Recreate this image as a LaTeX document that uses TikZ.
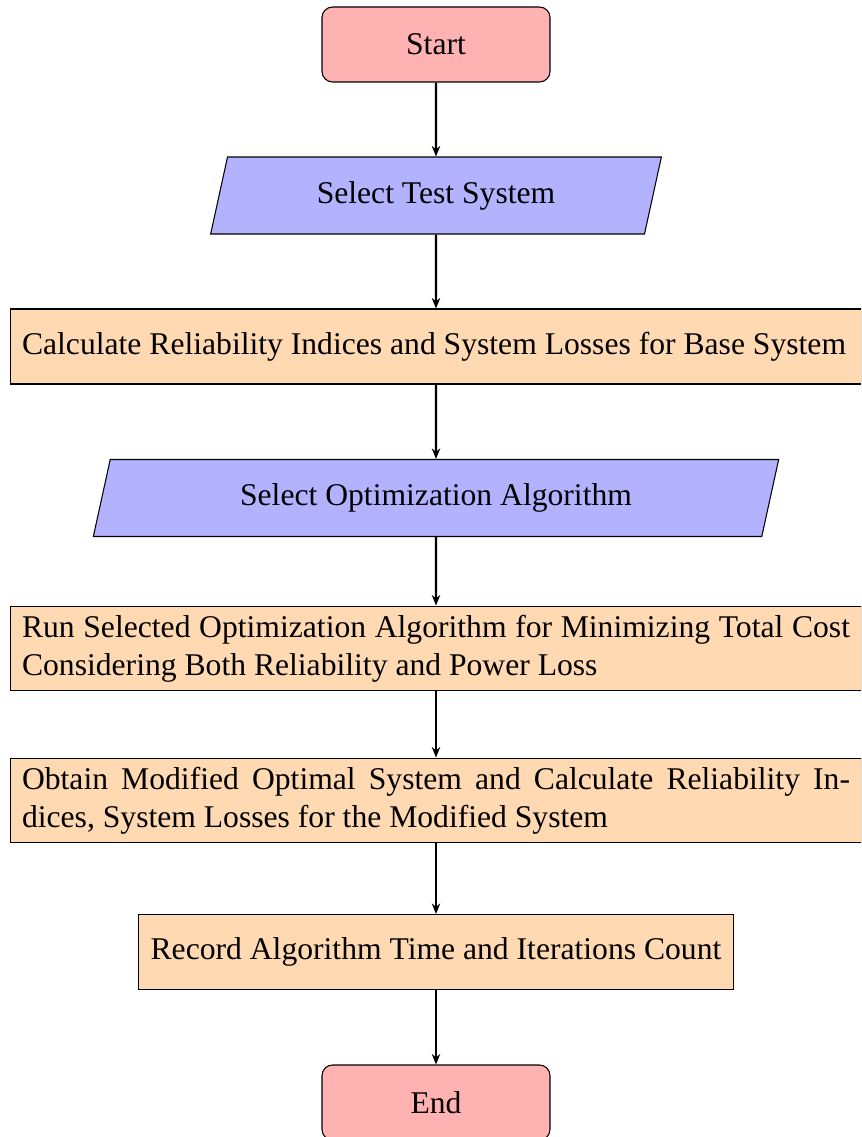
\documentclass[tikz,border=0pt]{standalone}
\usepackage{fontspec}
\setmainfont{Liberation Serif}
\usetikzlibrary{shapes.geometric,arrows.meta}
\begin{document}
\begin{tikzpicture}[x=0.3794pt,y=-0.3794pt,
 every node/.style={font=\fontsize{12}{14.5}\selectfont},
 term/.style={rectangle, rounded corners=4pt, draw, fill=red!30, minimum width=86.5pt, minimum height=28.45pt, align=center},
 io/.style={trapezium, trapezium left angle=70, trapezium right angle=110, trapezium stretches body, draw, fill=blue!30, minimum height=29.2pt, align=center},
 proc/.style={rectangle, draw, fill=orange!30, minimum height=28.45pt, inner xsep=4.55pt},
 wide/.style={proc, text width=314.1pt, align=justify},
 arr/.style={thick, -{Stealth[length=4pt,width=3.2pt]}}]
\clip (0,0) rectangle (861,1137);
\useasboundingbox (0,0) rectangle (861,1137);
\node[term] (start) at (436,44.5) {Start};
\node[io, minimum width=171pt] (test) at (436,195.5) {Select Test System};
\node[wide] (calc) at (436,346.5) {Calculate Reliability Indices and System Losses for Base System};
\node[io, minimum width=260pt] (alg) at (436,498) {Select Optimization Algorithm};
\node[wide] (run) at (436,648.5) {Run Selected Optimization Algorithm for Minimizing Total Cost Considering Both Reliability and Power Loss};
\node[wide] (obt) at (436,800.5) {Obtain Modified Optimal System and Calculate Reliability Indices, System Losses for the Modified System};
\node[proc] (rec) at (436,952) {Record Algorithm Time and Iterations Count};
\node[term] (end) at (436,1102.5) {End};
\draw[arr] (start) -- (test);
\draw[arr] (test) -- (calc);
\draw[arr] (calc) -- (alg);
\draw[arr] (alg) -- (run);
\draw[arr] (run) -- (obt);
\draw[arr] (obt) -- (rec);
\draw[arr] (rec) -- (end);
\end{tikzpicture}
\end{document}
